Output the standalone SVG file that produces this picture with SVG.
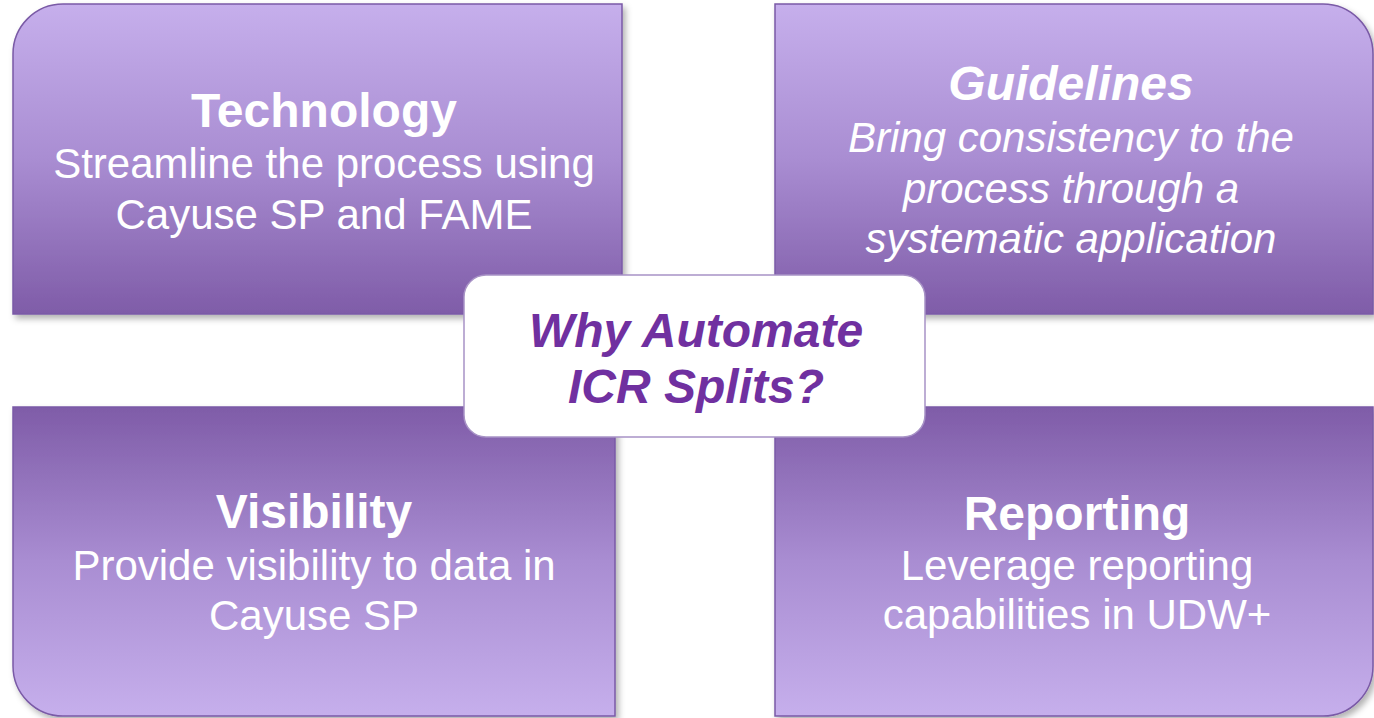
<svg xmlns="http://www.w3.org/2000/svg" width="1374" height="718" viewBox="0 0 1374 718">
<defs>
<linearGradient id="gTop" x1="0" y1="0" x2="0" y2="1">
<stop offset="0" stop-color="#c6afec"/>
<stop offset="0.5" stop-color="#a98dd2"/>
<stop offset="1" stop-color="#7f5ca8"/>
</linearGradient>
<linearGradient id="gBot" x1="0" y1="0" x2="0" y2="1">
<stop offset="0" stop-color="#7f5ca8"/>
<stop offset="0.5" stop-color="#a98dd2"/>
<stop offset="1" stop-color="#c6afec"/>
</linearGradient>
<filter id="sh" x="-5%" y="-5%" width="110%" height="115%">
<feDropShadow dx="3" dy="4" stdDeviation="3" flood-color="#000" flood-opacity="0.3"/>
</filter>
</defs>
<style>
.quad{stroke:#7a5aa6;stroke-width:1.5;filter:url(#sh)}
.t{font-family:"Liberation Sans",Arial,sans-serif;fill:#ffffff;text-anchor:middle}
.title{font-size:48px;font-weight:bold}
.body{font-size:42px}
.it{font-style:italic}
.center{font-family:"Liberation Sans",Arial,sans-serif;fill:#7030a0;font-size:48px;font-weight:bold;font-style:italic;text-anchor:middle}
</style>
<rect width="1374" height="718" fill="#ffffff"/>
<g id="technology">
<path class="quad" fill="url(#gTop)" d="M13,314 L13,54 A50,50 0 0 1 63,4 L622,4 L622,314 Z"/>
<text class="t title" x="324" y="127">Technology</text>
<text class="t body" x="324" y="178">Streamline the process using</text>
<text class="t body" x="324" y="229">Cayuse SP and FAME</text>
</g>
<g id="guidelines">
<path class="quad" fill="url(#gTop)" d="M775,4 L1323,4 A50,50 0 0 1 1373,54 L1373,314 L775,314 Z"/>
<text class="t title it" x="1071" y="100">Guidelines</text>
<text class="t body it" x="1071" y="152">Bring consistency to the</text>
<text class="t body it" x="1071" y="203">process through a</text>
<text class="t body it" x="1071" y="253">systematic application</text>
</g>
<g id="visibility">
<path class="quad" fill="url(#gBot)" d="M13,407 L615,407 L615,716 L63,716 A50,50 0 0 1 13,666 Z"/>
<text class="t title" x="314" y="528">Visibility</text>
<text class="t body" x="314" y="580">Provide visibility to data in</text>
<text class="t body" x="314" y="630">Cayuse SP</text>
</g>
<g id="reporting">
<path class="quad" fill="url(#gBot)" d="M775,407 L1373,407 L1373,666 A50,50 0 0 1 1323,716 L775,716 Z"/>
<text class="t title" x="1077" y="530">Reporting</text>
<text class="t body" x="1077" y="580">Leverage reporting</text>
<text class="t body" x="1077" y="629">capabilities in UDW+</text>
</g>
<g id="why-automate">
<rect x="464" y="275" width="461" height="162" rx="22" ry="22" fill="#ffffff" stroke="#a893c6" stroke-width="1.5"/>
<text class="center" x="696" y="347">Why Automate</text>
<text class="center" x="696" y="403">ICR Splits?</text>
</g>
<g id="connectors"></g>
</svg>
